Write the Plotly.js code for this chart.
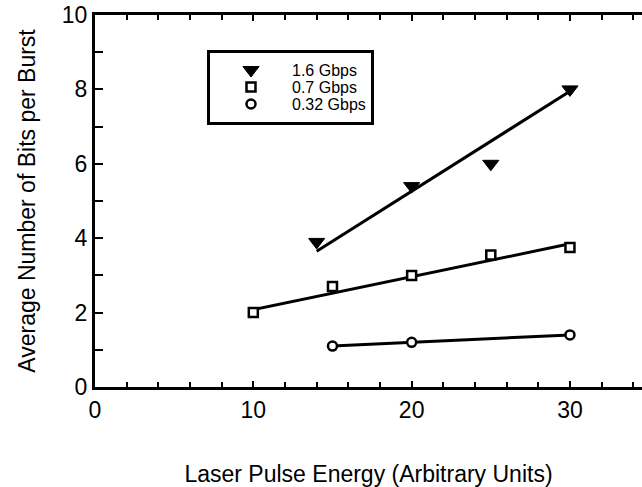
<!DOCTYPE html>
<html>
<head>
<meta charset="utf-8">
<script src="https://cdn.plot.ly/plotly-3.0.1.min.js"></script>
<style>
html,body{margin:0;padding:0;overflow:hidden;background:#fff;}
#chart{width:642px;height:487px;}
</style>
</head>
<body>
<div id="chart"></div>
<script>
// Data
const seriesNames = ["1.6 Gbps", "0.7 Gbps", "0.32 Gbps"];

const energyHigh = [14, 20, 25, 30];
const bitsHigh   = [3.9, 5.4, 6.0, 8.0];
const fitHighX   = [14, 30];
const fitHighY   = [3.65, 7.95];

const energyMid  = [10, 15, 20, 25, 30];
const bitsMid    = [2.0, 2.7, 3.0, 3.55, 3.75];
const fitMidX    = [10, 30];
const fitMidY    = [2.08, 3.85];

const energyLow  = [15, 20, 30];
const bitsLow    = [1.1, 1.2, 1.4];
const fitLowX    = [15, 30];
const fitLowY    = [1.1, 1.4];

const xTitle = "Laser Pulse Energy (Arbitrary Units)";
const yTitle = "Average Number of Bits per Burst";

const FONT = "Arial, 'Liberation Sans', sans-serif";

function fitTrace(x, y) {
  return {x: x, y: y, mode: "lines", type: "scatter", showlegend: false,
          hoverinfo: "skip", line: {color: "#000", width: 3}};
}

const traces = [
  fitTrace(fitHighX, fitHighY),
  fitTrace(fitMidX, fitMidY),
  fitTrace(fitLowX, fitLowY),
  {x: energyHigh, y: bitsHigh, name: seriesNames[0], mode: "markers", type: "scatter",
   marker: {symbol: "triangle-down", size: 14, color: "#000", line: {color: "#000", width: 1}}},
  {x: energyMid, y: bitsMid, name: seriesNames[1], mode: "markers", type: "scatter",
   marker: {symbol: "square", size: 9, color: "#fff", line: {color: "#000", width: 2.5}}},
  {x: energyLow, y: bitsLow, name: seriesNames[2], mode: "markers", type: "scatter",
   marker: {symbol: "circle", size: 9, color: "#fff", line: {color: "#000", width: 2.5}}}
];

const tickFont = {family: FONT, size: 23, color: "#000"};

const layout = {
  width: 642, height: 487,
  margin: {l: 95, r: 0, t: 15, b: 100},
  paper_bgcolor: "#fff", plot_bgcolor: "#fff",
  font: {family: FONT, color: "#000"},
  showlegend: true,
  legend: {
    x: (207 - 95) / 547, y: 1 - (50 - 15) / 372, xanchor: "left", yanchor: "top",
    bgcolor: "#fff", bordercolor: "#000", borderwidth: 3,
    font: {family: FONT, size: 16, color: "#000"},
    itemwidth: 72, tracegroupgap: 0
  },
  xaxis: {
    range: [0, 34.55], showgrid: false, zeroline: false,
    showline: true, linecolor: "#000", linewidth: 3, mirror: "ticks",
    ticks: "inside", tickcolor: "#000", tickwidth: 2, ticklen: 6,
    tickmode: "linear", tick0: 0, dtick: 10, tickfont: tickFont,
    minor: {tickmode: "linear", tick0: 0, dtick: 2, ticklen: 5, tickwidth: 2, tickcolor: "#000", ticks: "inside"},
    title: {text: xTitle, font: {family: FONT, size: 23, color: "#000"}, standoff: 45}
  },
  yaxis: {
    range: [0, 10], showgrid: false, zeroline: false,
    showline: true, linecolor: "#000", linewidth: 3, mirror: false,
    ticks: "inside", tickcolor: "#000", tickwidth: 2, ticklen: 8,
    tickmode: "linear", tick0: 0, dtick: 2, tickfont: tickFont,
    minor: {tickmode: "linear", tick0: 0, dtick: 1, ticklen: 8, tickwidth: 2, tickcolor: "#000", ticks: "inside"},
    title: {text: yTitle, font: {family: FONT, size: 23, color: "#000"}, standoff: 20}
  },
  yaxis2: {
    overlaying: "y", side: "right", anchor: "x", range: [0, 10],
    showgrid: false, zeroline: false, showline: false, showticklabels: false,
    ticks: "inside", tickcolor: "#000", tickwidth: 2, ticklen: 5,
    tickmode: "linear", tick0: 0, dtick: 2,
    minor: {tickmode: "linear", tick0: 0, dtick: 1, ticklen: 3, tickwidth: 2, tickcolor: "#000", ticks: "inside"}
  }
};

Plotly.newPlot("chart", traces, layout, {displayModeBar: false, staticPlot: true}).then(function (gd) {
  // tighten legend row spacing to match the reference
  const items = gd.querySelectorAll(".legend .traces");
  const rowGap = 17, firstRow = 20, boxH = 75, bw = 3;
  items.forEach(function (el, i) {
    const t = el.getAttribute("transform") || "";
    const m = t.match(/translate\(([-\d.]+)[ ,]*([-\d.]+)?\)/);
    const tx = m ? parseFloat(m[1]) : bw;
    el.setAttribute("transform", "translate(" + tx + "," + (firstRow + i * rowGap) + ")");
  });
  const bg = gd.querySelector(".legend rect.bg");
  if (bg) bg.setAttribute("height", boxH - bw);
});
</script>
</body>
</html>
